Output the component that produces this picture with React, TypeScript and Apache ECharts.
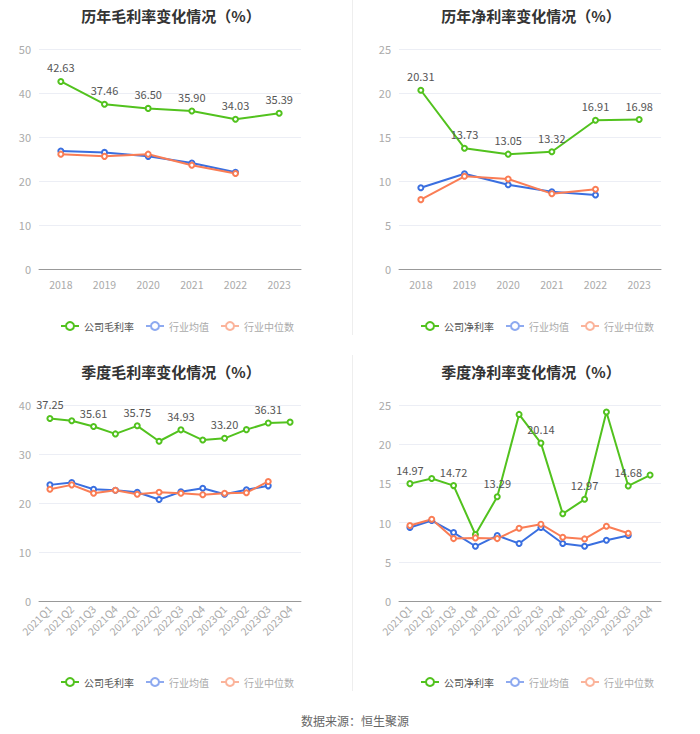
import React, { useEffect, useRef } from "react";
import * as echarts from "echarts";

const years = ["2018", "2019", "2020", "2021", "2022", "2023"];
const quarters = [
  "2021Q1", "2021Q2", "2021Q3", "2021Q4",
  "2022Q1", "2022Q2", "2022Q3", "2022Q4",
  "2023Q1", "2023Q2", "2023Q3", "2023Q4",
];

// 历年毛利率
const annualGross = [42.63, 37.46, 36.5, 35.9, 34.03, 35.39];
const annualGrossMean = [26.8, 26.5, 25.6, 24.1, 22.0];
const annualGrossMedian = [26.1, 25.6, 26.1, 23.6, 21.7];

// 历年净利率
const annualNet = [20.31, 13.73, 13.05, 13.32, 16.91, 16.98];
const annualNetMean = [9.24, 10.83, 9.58, 8.78, 8.41];
const annualNetMedian = [7.88, 10.53, 10.23, 8.56, 9.06];

// 季度毛利率
const quarterGross = [37.25, 36.8, 35.61, 34.1, 35.75, 32.6, 34.93, 32.85, 33.2, 34.97, 36.31, 36.5];
const quarterGrossMean = [23.7, 24.2, 22.8, 22.6, 22.2, 20.7, 22.3, 23.0, 21.8, 22.7, 23.5];
const quarterGrossMedian = [22.8, 23.7, 22.0, 22.6, 21.8, 22.2, 22.0, 21.7, 22.0, 22.1, 24.4];

// 季度净利率
const quarterNet = [14.97, 15.63, 14.72, 8.48, 13.29, 23.8, 20.14, 11.12, 12.97, 24.1, 14.68, 16.06];
const quarterNetMean = [9.37, 10.26, 8.73, 6.98, 8.35, 7.33, 9.37, 7.33, 6.98, 7.75, 8.35];
const quarterNetMedian = [9.63, 10.43, 7.96, 8.05, 7.96, 9.28, 9.8, 8.13, 7.92, 9.54, 8.65];

const titles = [
  "历年毛利率变化情况（%）",
  "历年净利率变化情况（%）",
  "季度毛利率变化情况（%）",
  "季度净利率变化情况（%）",
];
const companyNames = ["公司毛利率", "公司净利率", "公司毛利率", "公司净利率"];
const meanName = "行业均值";
const medianName = "行业中位数";
const sourceText = "数据来源：恒生聚源";

const GREEN = "#52c21e";
const BLUE = "#3a6fe0";
const ORANGE = "#fa7d55";
const FONT = "'Noto Sans CJK SC', 'Noto Sans', sans-serif";

export default function App() {
  const ref = useRef<HTMLDivElement>(null);

  useEffect(() => {
    if (!ref.current) return;
    const chart = echarts.init(ref.current, null, { renderer: "svg" });

    const grids = [
      { left: 39, width: 262, top: 49, height: 220 },
      { left: 399, width: 262, top: 49, height: 220 },
      { left: 39, width: 262, top: 405, height: 196 },
      { left: 399, width: 262, top: 405, height: 196 },
    ];
    const titleCenters = [166, 526, 166, 526];
    const titleTops = [3, 3, 359, 359];
    const legendLefts = [55, 415, 55, 415];
    const legendTops = [316, 316, 672, 672];
    const yMax = [50, 25, 40, 25];
    const yInt = [10, 5, 10, 5];
    const cats = [years, years, quarters, quarters];
    const comp = [annualGross, annualNet, quarterGross, quarterNet];
    const means = [annualGrossMean, annualNetMean, quarterGrossMean, quarterNetMean];
    const medians = [annualGrossMedian, annualNetMedian, quarterGrossMedian, quarterNetMedian];

    const xAxis = cats.map((c, i) => ({
      type: "category",
      gridIndex: i,
      data: c,
      boundaryGap: true,
      axisLine: { lineStyle: { color: "#999" } },
      axisTick: { alignWithLabel: true, length: 4, lineStyle: { color: "#999" } },
      axisLabel: {
        color: "#aaa",
        fontSize: 10.5,
        fontFamily: FONT,
        margin: i < 2 ? 10 : 6,
        rotate: i < 2 ? 0 : 45,
        interval: 0,
      },
    }));
    const yAxis = cats.map((_, i) => ({
      type: "value",
      gridIndex: i,
      min: 0,
      max: yMax[i],
      interval: yInt[i],
      axisLine: { show: false },
      axisTick: { show: false },
      splitLine: { lineStyle: { color: "#eceef5" } },
      axisLabel: { color: "#aaa", fontSize: 11, fontFamily: FONT, margin: 8 },
    }));

    const series: any[] = [];
    for (let i = 0; i < 4; i++) {
      const quarterly = i >= 2;
      series.push({
        name: companyNames[i],
        type: "line",
        xAxisIndex: i,
        yAxisIndex: i,
        data: comp[i].map((v, k) => ({
          value: v,
          label: { show: !quarterly || k % 2 === 0 },
        })),
        symbol: "emptyCircle",
        symbolSize: 5,
        lineStyle: { color: GREEN, width: 2 },
        itemStyle: { color: GREEN, borderWidth: 1.5 },
        label: {
          show: true,
          position: "top",
          color: "#555",
          fontSize: 11,
          fontFamily: FONT,
          formatter: (p: any) => Number(p.value).toFixed(2),
        },
      });
      series.push({
        name: meanName,
        type: "line",
        xAxisIndex: i,
        yAxisIndex: i,
        data: means[i],
        symbol: "emptyCircle",
        symbolSize: 5,
        lineStyle: { color: BLUE, width: 2 },
        itemStyle: { color: BLUE, borderWidth: 1.5 },
      });
      series.push({
        name: medianName,
        type: "line",
        xAxisIndex: i,
        yAxisIndex: i,
        data: medians[i],
        symbol: "emptyCircle",
        symbolSize: 5,
        lineStyle: { color: ORANGE, width: 2 },
        itemStyle: { color: ORANGE, borderWidth: 1.5 },
      });
    }

    const legend = [0, 1, 2, 3].map((i) => ({
      left: legendLefts[i],
      top: legendTops[i],
      width: 280,
      orient: "horizontal",
      itemWidth: 18,
      itemHeight: 10,
      itemGap: 11,
      selectedMode: false,
      textStyle: { fontSize: 10, fontFamily: FONT },
      data: [
        { name: companyNames[i], textStyle: { color: "#555" } },
        {
          name: meanName,
          textStyle: { color: "#aaa" },
          itemStyle: { color: "#8eaaf0", borderColor: "#8eaaf0" },
          lineStyle: { color: "#8eaaf0" },
        },
        {
          name: medianName,
          textStyle: { color: "#aaa" },
          itemStyle: { color: "#fbb49b", borderColor: "#fbb49b" },
          lineStyle: { color: "#fbb49b" },
        },
      ],
    }));

    chart.setOption({
      animation: false,
      backgroundColor: "#fff",
      title: [
        ...titles.map((t, i) => ({
          text: t,
          left: titleCenters[i],
          top: titleTops[i],
          textAlign: "center",
          textStyle: { fontSize: 15, fontWeight: "bold", color: "#333", fontFamily: FONT },
        })),
        {
          text: sourceText,
          left: 350,
          top: 709,
          textAlign: "center",
          textStyle: { fontSize: 12, fontWeight: "normal", color: "#666", fontFamily: FONT },
        },
      ],
      legend,
      grid: grids.map((g) => ({ ...g, containLabel: false })),
      xAxis,
      yAxis,
      series,
      graphic: [
        { type: "line", shape: { x1: 352.5, y1: 0, x2: 352.5, y2: 335 }, style: { stroke: "#eeeeee", lineWidth: 1 } },
        { type: "line", shape: { x1: 352.5, y1: 355, x2: 352.5, y2: 691 }, style: { stroke: "#eeeeee", lineWidth: 1 } },
      ],
    });

    return () => chart.dispose();
  }, []);

  return (
    <div
      ref={ref}
      style={{ position: "fixed", left: 0, top: 0, width: 700, height: 734, background: "#fff" }}
    />
  );
}
